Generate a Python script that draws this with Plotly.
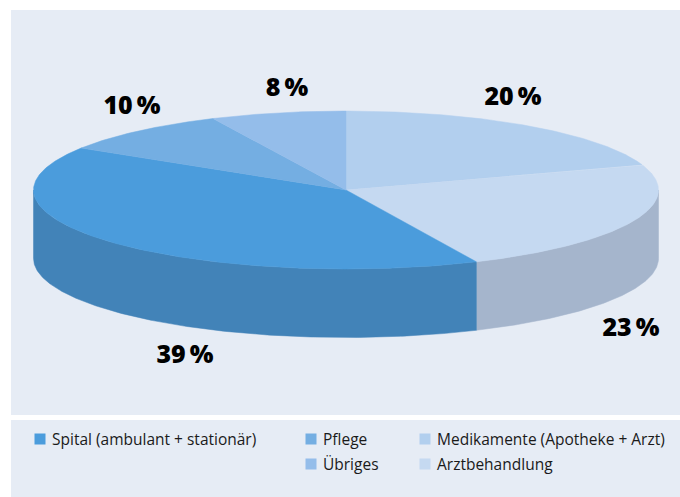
import numpy as np
import plotly.graph_objects as go

# Data, clockwise from twelve o'clock
categories = ["Medikamente (Apotheke + Arzt)", "Arztbehandlung", "Spital (ambulant + stationär)", "Pflege", "Übriges"]
printed_labels = ["20\u2009%", "23\u2009%", "39\u2009%", "10\u2009%", "8\u2009%"]
drawn_shares = [19.8, 23.35, 40.75, 9.1, 7.0]

# Style
top_colors = ["#b2cfee", "#c5d9f1", "#4b9cdc", "#74aee2", "#94bdea"]
wall_colors = ["#a5b5cc", "#a5b5cc", "#4283b8", "#4283b8", "#4283b8"]
PANEL = "#e6ecf5"
CX, CY, RX, RY, DEPTH = 346, 190, 312.5, 79, 68.5
label_pos = [(513, 99), (631, 330), (185, 357), (132, 108), (287, 90)]
legend_pos = {2: (40, 439), 3: (311, 439), 4: (311, 464), 0: (425, 439), 1: (425, 464)}
FONT = "Open Sans"


def arc(a0, a1, dy=0.0):
    t = np.radians(np.linspace(a0, a1, max(int(abs(a1 - a0) * 2), 2)))
    return CX + RX * np.sin(t), CY - RY * np.cos(t) + dy


fig = go.Figure()
edges = np.cumsum([0] + drawn_shares) * 3.6

# Side walls: only the front half of the rim (90 to 270 degrees) is visible
for i in range(len(drawn_shares)):
    a0, a1 = max(edges[i], 90), min(edges[i + 1], 270)
    if a1 <= a0:
        continue
    x1, y1 = arc(a0, a1)
    x2, y2 = arc(a1, a0, DEPTH)
    fig.add_trace(go.Scatter(x=np.r_[x1, x2, x1[0]], y=np.r_[y1, y2, y1[0]], mode="lines",
                             fill="toself", fillcolor=wall_colors[i],
                             line=dict(color=wall_colors[i], width=0.5), hoverinfo="skip"))

# Top faces
for i in range(len(drawn_shares)):
    x, y = arc(edges[i], edges[i + 1])
    fig.add_trace(go.Scatter(x=np.r_[CX, x, CX], y=np.r_[CY, y, CY], mode="lines",
                             fill="toself", fillcolor=top_colors[i],
                             line=dict(color=top_colors[i], width=0.5), hoverinfo="text",
                             text=f"{categories[i]}: {printed_labels[i]}"))

# Percent labels
fig.add_trace(go.Scatter(x=[p[0] for p in label_pos], y=[p[1] for p in label_pos], mode="text",
                         text=printed_labels, textposition="middle center",
                         textfont=dict(family=FONT, size=25, color="black", weight=800),
                         hoverinfo="skip"))

# Legend
order = [2, 3, 4, 0, 1]
fig.add_trace(go.Scatter(x=[legend_pos[i][0] for i in order], y=[legend_pos[i][1] for i in order],
                         mode="markers", marker=dict(symbol="square", size=11, color=[top_colors[i] for i in order]),
                         hoverinfo="skip"))
fig.add_trace(go.Scatter(x=[legend_pos[i][0] + 12 for i in order], y=[legend_pos[i][1] + 2 for i in order],
                         mode="text", text=[categories[i] for i in order], textposition="middle right",
                         textfont=dict(family=FONT, size=15.5, color="#1a1a1a"), hoverinfo="skip"))

fig.update_layout(
    width=680, height=497, margin=dict(l=0, r=0, t=0, b=0), showlegend=False,
    paper_bgcolor="white", plot_bgcolor="white",
    xaxis=dict(range=[0, 680], visible=False, fixedrange=True),
    yaxis=dict(range=[497, 0], visible=False, fixedrange=True),
    shapes=[
        dict(type="rect", x0=11, x1=680, y0=10, y1=415, fillcolor=PANEL, line_width=0, layer="below"),
        dict(type="rect", x0=11, x1=680, y0=420, y1=497, fillcolor=PANEL, line_width=0, layer="below"),
    ],
)
fig.write_html("out.html", config=dict(displayModeBar=False),
               post_script="document.body.style.margin='0';document.documentElement.style.overflow='hidden';")
